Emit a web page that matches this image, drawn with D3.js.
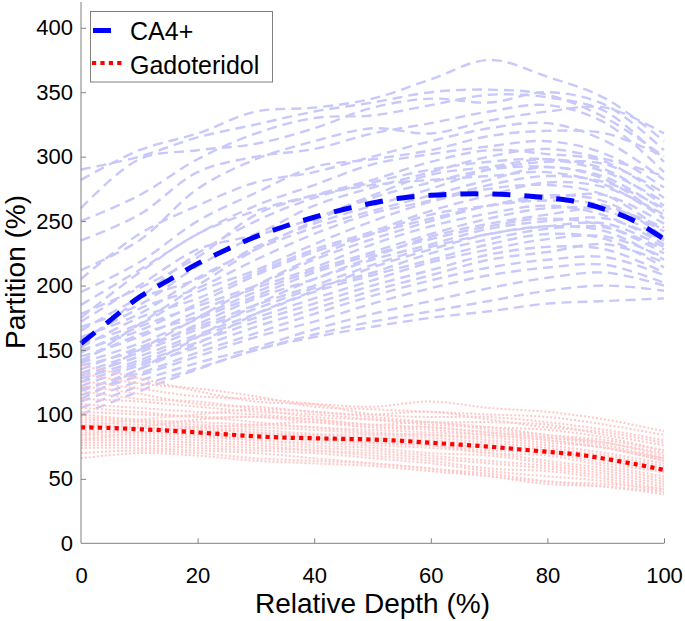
<!DOCTYPE html>
<html>
<head>
<meta charset="utf-8">
<script src="https://cdn.jsdelivr.net/npm/d3@7"></script>
<style>
  html, body { margin: 0; padding: 0; background: #fff; }
  svg { display: block; font-family: "Liberation Sans", Arial, sans-serif; }
</style>
</head>
<body>
<svg id="chart" width="685" height="621"></svg>
<script>
// ---------------- DATA ----------------
const xTicks = [0, 20, 40, 60, 80, 100];
const yTicks = [0, 50, 100, 150, 200, 250, 300, 350, 400];
const sampleDepth = [0, 10, 20, 30, 40, 50, 60, 70, 80, 90, 100];
const meanDepth = [0, 5, 10, 15, 20, 25, 30, 35, 40, 45, 50, 55, 60, 65, 70, 75, 80, 85, 90, 95, 100];

const ca4Mean = [155, 173, 191, 204, 217, 228, 238, 246, 253, 259, 264, 268, 270, 271, 271, 270, 268, 265, 259, 250, 236];
const gadoMean = [90, 89.5, 88.5, 87.5, 86, 84.5, 83, 82, 81.5, 81, 80.5, 79.5, 78, 76.5, 75, 73, 71, 69, 65.5, 61.5, 57];

const ca4Samples = [
  [290, 300, 315, 325, 335, 342, 350, 352, 348, 330, 300],
  [282, 305, 318, 335, 338, 345, 360, 375, 362, 345, 312],
  [260, 298, 305, 310, 322, 338, 345, 342, 350, 340, 305],
  [250, 270, 298, 318, 330, 332, 340, 348, 346, 335, 296],
  [235, 255, 288, 300, 306, 318, 326, 335, 340, 326, 288],
  [212, 235, 275, 298, 312, 322, 318, 328, 335, 338, 318],
  [205, 240, 262, 280, 288, 300, 312, 322, 326, 312, 282],
  [195, 218, 250, 272, 292, 298, 305, 316, 320, 318, 300],
  [185, 212, 240, 262, 278, 294, 302, 308, 312, 302, 276],
  [178, 198, 222, 255, 270, 282, 296, 305, 302, 296, 268],
  [172, 200, 228, 240, 262, 276, 288, 300, 306, 298, 285],
  [168, 185, 215, 238, 252, 270, 286, 292, 298, 290, 262],
  [165, 190, 205, 230, 248, 262, 275, 290, 296, 294, 272],
  [160, 178, 206, 228, 245, 258, 270, 282, 292, 282, 252],
  [158, 182, 198, 220, 240, 256, 266, 278, 285, 280, 260],
  [155, 170, 195, 212, 232, 250, 265, 275, 278, 270, 242],
  [152, 175, 190, 210, 228, 242, 258, 270, 280, 276, 255],
  [150, 165, 186, 208, 226, 240, 252, 262, 270, 265, 238],
  [148, 168, 184, 200, 220, 236, 250, 262, 268, 270, 248],
  [145, 160, 180, 198, 214, 232, 246, 256, 262, 254, 232],
  [142, 162, 176, 195, 212, 226, 240, 252, 260, 258, 236],
  [140, 155, 174, 192, 210, 224, 236, 246, 252, 246, 225],
  [138, 150, 170, 190, 205, 220, 232, 244, 250, 252, 235],
  [135, 152, 168, 185, 200, 216, 230, 240, 246, 242, 220],
  [132, 148, 166, 182, 198, 210, 225, 236, 244, 245, 228],
  [130, 145, 162, 178, 195, 208, 220, 232, 240, 236, 214],
  [128, 142, 160, 175, 190, 204, 218, 228, 236, 238, 222],
  [125, 140, 156, 172, 186, 200, 212, 224, 230, 228, 210],
  [122, 138, 152, 168, 182, 196, 208, 220, 226, 232, 218],
  [120, 132, 148, 163, 178, 192, 204, 214, 220, 222, 208],
  [115, 130, 145, 160, 172, 186, 198, 208, 214, 216, 202],
  [110, 126, 140, 152, 166, 178, 188, 198, 206, 210, 200],
  [105, 122, 136, 150, 162, 172, 180, 188, 196, 200, 196],
  [100, 118, 135, 150, 160, 168, 175, 180, 186, 188, 190],
  [112, 135, 160, 185, 205, 222, 238, 248, 255, 260, 245],
  [140, 170, 200, 228, 250, 268, 280, 290, 292, 284, 258],
  [175, 210, 240, 258, 270, 278, 282, 285, 288, 278, 252],
  [155, 190, 225, 250, 268, 280, 290, 296, 298, 288, 265],
  [125, 150, 175, 200, 222, 240, 255, 262, 266, 262, 242],
  [118, 135, 155, 178, 196, 214, 228, 240, 246, 248, 230]
];

const gadoSamples = [
  [138, 128, 118, 110, 108, 106, 110, 105, 102, 96, 87],
  [132, 124, 120, 114, 106, 104, 102, 100, 98, 92, 84],
  [126, 120, 114, 112, 108, 100, 98, 98, 94, 88, 80],
  [122, 116, 108, 106, 102, 100, 102, 96, 90, 86, 78],
  [118, 112, 110, 104, 98, 96, 94, 94, 92, 84, 76],
  [112, 110, 106, 102, 100, 96, 92, 90, 88, 82, 72],
  [108, 105, 102, 100, 96, 92, 94, 88, 84, 80, 72],
  [105, 102, 98, 98, 94, 90, 90, 86, 82, 78, 68],
  [102, 100, 98, 94, 90, 88, 86, 84, 80, 74, 66],
  [100, 96, 94, 92, 90, 86, 84, 82, 78, 74, 64],
  [98, 95, 92, 90, 88, 85, 84, 80, 76, 70, 62],
  [96, 94, 90, 88, 85, 84, 82, 78, 74, 68, 60],
  [94, 92, 90, 86, 84, 82, 80, 76, 72, 66, 58],
  [92, 90, 88, 86, 82, 80, 78, 74, 72, 64, 56],
  [90, 90, 86, 84, 82, 78, 76, 72, 70, 62, 55],
  [88, 86, 84, 82, 80, 78, 76, 70, 68, 60, 52],
  [86, 86, 84, 80, 78, 76, 74, 70, 64, 58, 50],
  [84, 84, 82, 80, 76, 74, 70, 68, 62, 56, 48],
  [82, 82, 80, 78, 74, 72, 68, 64, 60, 54, 46],
  [80, 80, 78, 76, 72, 70, 66, 62, 58, 52, 44],
  [78, 78, 76, 74, 72, 68, 64, 58, 56, 50, 42],
  [76, 76, 74, 72, 70, 66, 62, 56, 52, 48, 40],
  [74, 74, 72, 70, 66, 62, 58, 54, 48, 44, 38],
  [70, 72, 70, 66, 64, 62, 58, 52, 46, 44, 40],
  [66, 70, 68, 64, 62, 60, 56, 52, 48, 46, 42],
  [90, 96, 100, 104, 102, 98, 94, 90, 84, 78, 70],
  [84, 90, 96, 98, 96, 92, 90, 86, 82, 76, 66],
  [80, 86, 90, 92, 94, 90, 88, 84, 80, 74, 64]
];

const legendLabels = ["CA4+", "Gadoteridol"];

// ---------------- CHART ----------------
const svg = d3.select("#chart");
const x = d3.scaleLinear().domain([0, 100]).range([81, 664]);
const y = d3.scaleLinear().domain([0, 420]).range([543.3, 2]);

const line = d3.line()
  .x(d => x(d[0]))
  .y(d => y(d[1]))
  .curve(d3.curveCatmullRom);

const pairs = (xs, ys) => xs.map((v, i) => [v, ys[i]]);

// individual CA4+ curves
svg.append("g").selectAll("path")
  .data(ca4Samples)
  .join("path")
  .attr("d", s => line(pairs(sampleDepth, s)))
  .attr("fill", "none")
  .attr("stroke", "#c8c8fa")
  .attr("stroke-width", 2.4)
  .attr("stroke-dasharray", "10,6");

// individual Gadoteridol curves
svg.append("g").selectAll("path")
  .data(gadoSamples)
  .join("path")
  .attr("d", s => line(pairs(sampleDepth, s)))
  .attr("fill", "none")
  .attr("stroke", "#ffc8c8")
  .attr("stroke-width", 2)
  .attr("stroke-dasharray", "2,2");

// mean curves
svg.append("path")
  .attr("d", line(pairs(meanDepth, ca4Mean)))
  .attr("fill", "none")
  .attr("stroke", "#0000ff")
  .attr("stroke-width", 5)
  .attr("stroke-dasharray", "18,14");

svg.append("path")
  .attr("d", line(pairs(meanDepth, gadoMean)))
  .attr("fill", "none")
  .attr("stroke", "#ff0000")
  .attr("stroke-width", 4.2)
  .attr("stroke-dasharray", "4.2,4.2");

// axes
const axisColor = "#808080";
const gx = svg.append("g")
  .attr("transform", `translate(0,${y(0)})`)
  .call(d3.axisBottom(x).tickValues(xTicks).tickSize(-5).tickPadding(24).tickSizeOuter(0));
const gy = svg.append("g")
  .attr("transform", `translate(${x(0)},0)`)
  .call(d3.axisLeft(y).tickValues(yTicks).tickSize(-5).tickPadding(8).tickSizeOuter(0));

[gx, gy].forEach(g => {
  g.select(".domain").attr("stroke", axisColor).attr("stroke-width", 1);
  g.selectAll(".tick line").attr("stroke", axisColor);
  g.selectAll(".tick text")
    .attr("fill", "#000")
    .style("font-size", "22px")
    .style("font-family", "'Liberation Sans', Arial, sans-serif");
});
gy.select(".domain").attr("d", `M0,${y(420)}V${y(0)}`);
gx.select(".domain").attr("d", `M${x(0)},0H${x(100)}`);
gx.selectAll(".tick").filter(d => d === 0).select("line").remove();
gy.selectAll(".tick").filter(d => d === 0).select("line").remove();

// axis labels
svg.append("text")
  .attr("x", (x(0) + x(100)) / 2)
  .attr("y", 613)
  .attr("text-anchor", "middle")
  .style("font-size", "28px")
  .text("Relative Depth (%)");

svg.append("text")
  .attr("transform", `translate(25,272) rotate(-90)`)
  .attr("text-anchor", "middle")
  .style("font-size", "28px")
  .text("Partition (%)");

// legend
const lg = svg.append("g");
lg.append("rect")
  .attr("x", 90.5).attr("y", 11.5)
  .attr("width", 182).attr("height", 70.5)
  .attr("fill", "#fff")
  .attr("stroke", "#808080")
  .attr("stroke-width", 1);

lg.append("line")
  .attr("x1", 93).attr("x2", 123).attr("y1", 30.5).attr("y2", 30.5)
  .attr("stroke", "#0000ff").attr("stroke-width", 5)
  .attr("stroke-dasharray", "18,14");
lg.append("line")
  .attr("x1", 92).attr("x2", 124).attr("y1", 63).attr("y2", 63)
  .attr("stroke", "#ff0000").attr("stroke-width", 4.2)
  .attr("stroke-dasharray", "4.2,4.2");

lg.selectAll("text.leg")
  .data(legendLabels)
  .join("text")
  .attr("class", "leg")
  .attr("x", 130)
  .attr("y", (d, i) => i === 0 ? 39.5 : 74)
  .style("font-size", "25px")
  .text(d => d);
</script>
</body>
</html>
